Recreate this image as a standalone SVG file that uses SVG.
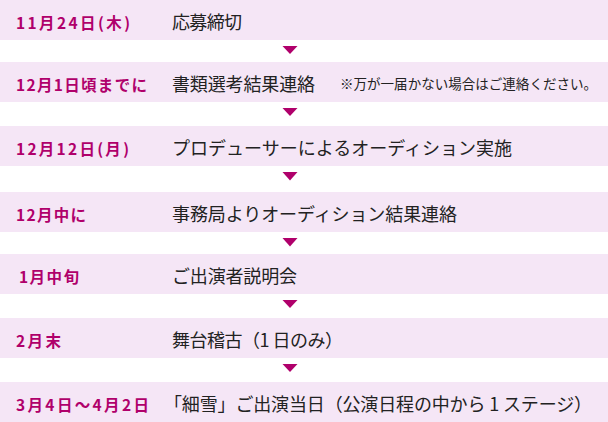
<svg xmlns="http://www.w3.org/2000/svg" width="608" height="422" viewBox="0 0 608 422">
<style>
.band{fill:#f5e6f6}
.date{font-family:"Noto Sans CJK JP","Noto Sans",sans-serif;font-weight:bold;font-size:15.5px;fill:#b0006b;dominant-baseline:central}
.main{font-family:"Noto Sans CJK JP","Noto Sans",sans-serif;font-size:18px;fill:#222;dominant-baseline:central}
.note{font-family:"Noto Sans CJK JP","Noto Sans",sans-serif;font-size:13.5px;fill:#222;dominant-baseline:central}
.tri{fill:#b0006b}
</style>
<rect width="608" height="422" fill="#fff"/>
<g id="step1">
<rect class="band" x="0" y="0" width="608" height="40"/>
<text class="date" x="16" y="22" textLength="114">11月24日(木)</text>
<text class="main" x="172" y="21" textLength="70">応募締切</text>
</g>
<g id="step2">
<rect class="band" x="0" y="62" width="608" height="40"/>
<text class="date" x="16" y="84" textLength="131">12月1日頃までに</text>
<text class="main" x="172" y="83" textLength="143">書類選考結果連絡</text>
<text class="note" x="340" y="83" textLength="257">※万が一届かない場合はご連絡ください。</text>
</g>
<g id="step3">
<rect class="band" x="0" y="126" width="608" height="40"/>
<text class="date" x="16" y="148" textLength="113">12月12日(月)</text>
<text class="main" x="172" y="147" textLength="340">プロデューサーによるオーディション実施</text>
</g>
<g id="step4">
<rect class="band" x="0" y="192" width="608" height="40"/>
<text class="date" x="16" y="214" textLength="70">12月中に</text>
<text class="main" x="172" y="213" textLength="285">事務局よりオーディション結果連絡</text>
</g>
<g id="step5">
<rect class="band" x="0" y="254" width="608" height="40"/>
<text class="date" x="19" y="276" textLength="60">1月中旬</text>
<text class="main" x="172" y="275" textLength="125">ご出演者説明会</text>
</g>
<g id="step6">
<rect class="band" x="0" y="318" width="608" height="40"/>
<text class="date" x="16" y="340" textLength="45">2月末</text>
<text class="main" x="172" y="339" textLength="171">舞台稽古（1 日のみ）</text>
</g>
<g id="step7">
<rect class="band" x="0" y="382" width="608" height="40"/>
<text class="date" x="16" y="404" textLength="133">3月4日～4月2日</text>
<text class="main" x="164" y="403" textLength="428">「細雪」ご出演当日（公演日程の中から 1 ステージ）</text>
</g>
<g id="connectors">
<polygon class="tri" points="282.5,46 297.5,46 290,54"/>
<polygon class="tri" points="282.5,108 297.5,108 290,116"/>
<polygon class="tri" points="282.5,172 297.5,172 290,180.5"/>
<polygon class="tri" points="282.5,238 297.5,238 290,246.5"/>
<polygon class="tri" points="282.5,300 297.5,300 290,308"/>
<polygon class="tri" points="282.5,364 297.5,364 290,372"/>
</g>
</svg>
